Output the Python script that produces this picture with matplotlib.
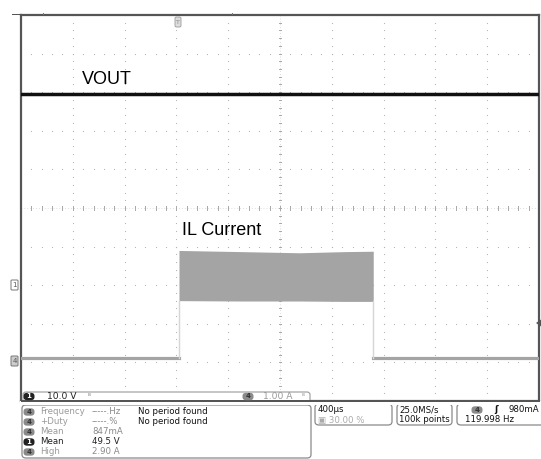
import matplotlib
matplotlib.use("Agg")
import matplotlib.pyplot as plt
from matplotlib.patches import FancyBboxPatch, Rectangle
import numpy as np

time_div_ms = 0.4            # 400 us / div
t_left_ms = -1.2             # trigger at 30 % of record
volt_per_div = 10.0          # CH1
amp_per_div = 1.0            # CH4
ch1_offset_div = -2.0        # CH1 ground marker position
ch4_offset_div = -3.96       # CH4 ground marker position

vout_time = [-1.2, 2.8]
vout_volts = [49.5, 49.5]

il_base_pre_time = [-1.2, 0.02]
il_base_pre_amps = [0.08, 0.08]
il_base_post_time = [1.52, 2.8]
il_base_post_amps = [0.08, 0.08]

il_band_time = [0.02, 0.5, 0.95, 1.3, 1.52]
il_band_top = [2.86, 2.83, 2.80, 2.83, 2.84]
il_band_bottom = [1.56, 1.55, 1.55, 1.54, 1.54]

labels = ["VOUT", "IL Current"]

meas_names = ["Frequency", "+Duty", "Mean", "Mean", "High"]
meas_chan = ["4", "4", "4", "1", "4"]
meas_values = ["-----.Hz", "-----.%", "847mA", "49.5 V", "2.90 A"]
meas_notes = ["No period found", "No period found", "", "", ""]

# ---------------- figure ----------------
W, H = 541, 459
fig = plt.figure(figsize=(W / 100, H / 100), dpi=100)
fig.patch.set_facecolor("white")

def fx(px):
    return px / W

def fy(py):
    return 1 - py / H

ax = fig.add_axes([fx(21), fy(401), fx(539) - fx(21), fy(15) - fy(401)])
x0, x1 = t_left_ms, t_left_ms + 10 * time_div_ms
ax.set_xlim(x0, x1)
ax.set_ylim(-5, 5)
ax.set_xticks([])
ax.set_yticks([])
for s in ax.spines.values():
    s.set_color("#555555")
    s.set_linewidth(1.6)

# graticule: dotted major lines
gcol = "#b0b0b0"
for k in range(1, 10):
    xv = x0 + k * time_div_ms
    ys = np.arange(-5, 5.001, 0.2)
    if k != 5:
        ax.scatter(np.full_like(ys, xv), ys, s=0.7, color=gcol, lw=0, zorder=1)
for k in range(-4, 5):
    xs = x0 + np.arange(0, 10.001, 0.2) * time_div_ms
    if k != 0:
        ax.scatter(xs, np.full_like(xs, k), s=0.7, color=gcol, lw=0, zorder=1)
# center cross with ticks
xc = x0 + 5 * time_div_ms
ax.plot([xc, xc], [-5, 5], color="#d4d4d4", lw=0.6, ls=(0, (1, 2.5)), zorder=1)
ax.plot([x0, x1], [0, 0], color="#d4d4d4", lw=0.6, ls=(0, (1, 2.5)), zorder=1)
for yv in np.arange(-5, 5.001, 0.2):
    ax.plot([xc - 0.009, xc + 0.009], [yv, yv], color="#a8a8a8", lw=0.7, zorder=1)
for xv in x0 + np.arange(0, 10.001, 0.2) * time_div_ms:
    ax.plot([xv, xv], [-0.045, 0.045], color="#a8a8a8", lw=0.7, zorder=1)

# CH4 current (grey)
def amps(v):
    return np.asarray(v) / amp_per_div + ch4_offset_div

def volts(v):
    return np.asarray(v) / volt_per_div + ch1_offset_div

icol = "#a4a4a4"
ax.plot(il_base_pre_time, amps(il_base_pre_amps), color=icol, lw=2.3, zorder=3)
ax.plot(il_base_post_time, amps(il_base_post_amps), color=icol, lw=2.3, zorder=3)
ax.fill_between(il_band_time, amps(il_band_bottom), amps(il_band_top),
                color=icol, lw=0, zorder=3)
ax.plot([il_band_time[0], il_band_time[0]],
        [amps(il_base_pre_amps[-1]), amps(il_band_bottom[0])], color="#d6d6d6", lw=1.0, zorder=3)
ax.plot([il_band_time[-1], il_band_time[-1]],
        [amps(il_base_post_amps[0]), amps(il_band_bottom[-1])], color="#d6d6d6", lw=1.0, zorder=3)

# CH1 VOUT (black)
ax.plot(vout_time, volts(vout_volts), color="#111111", lw=2.5, zorder=4)

ax.text(-0.73, 3.33, labels[0], fontsize=13, family="Liberation Sans",
        ha="left", va="center", color="black", zorder=5)
ax.text(0.045, -0.58, labels[1], fontsize=13, family="Liberation Sans",
        ha="left", va="center", color="black", zorder=5)

# ---------------- decorations in figure coords ----------------
def rbox(xa, ya, xb, yb, ec="#8a8a8a", fc="none", lw=0.9, r=3, z=6):
    p = FancyBboxPatch((fx(xa), fy(yb)), fx(xb) - fx(xa), fy(ya) - fy(yb),
                       boxstyle=f"round,pad=0,rounding_size={r / W}",
                       transform=fig.transFigure, ec=ec, fc=fc, lw=lw, zorder=z,
                       clip_on=False)
    fig.add_artist(p)

def badge(xc_, yc_, num, fc, tc="white"):
    p = FancyBboxPatch((fx(xc_ - 5.5), fy(yc_ + 3.7)), fx(11), 7.4 / H,
                       boxstyle=f"round,pad=0,rounding_size={3.7 / W}",
                       transform=fig.transFigure, ec="none", fc=fc, zorder=8)
    fig.add_artist(p)
    fig.text(fx(xc_), fy(yc_), num, fontsize=5, color=tc, ha="center", va="center",
             zorder=9, fontweight="bold")

def t(xp, yp, s, c="black", fs=6.2, ha="left", w="normal"):
    fig.text(fx(xp), fy(yp), s, fontsize=fs, color=c, ha=ha, va="center",
             family="DejaVu Sans", fontweight=w, zorder=9)

# top-left leftover mark and top ticks
fig.add_artist(Rectangle((fx(12), fy(15)), fx(8), 1.5 / H, transform=fig.transFigure,
                         fc="#555555", ec="none"))
for xp in (43, 232):
    fig.add_artist(Rectangle((fx(xp), fy(15)), fx(1), 2 / H, transform=fig.transFigure,
                             fc="#777777", ec="none"))
# trigger position marker
rbox(175, 17, 181, 27, ec="#9a9a9a", fc="#dddddd", lw=0.6, r=1.5, z=7)
t(178, 22, "T", c="#888888", fs=4.5, ha="center")
# channel ground markers on left
rbox(11, 280, 18, 290, ec="#777777", fc="white", lw=0.7, r=1, z=7)
t(14.5, 285, "1", c="#555555", fs=5, ha="center")
rbox(11, 356, 18, 366, ec="#777777", fc="#cccccc", lw=0.7, r=1, z=7)
t(14.5, 361, "4", c="#555555", fs=5, ha="center")
# trigger level marker on right
fig.add_artist(plt.Polygon([[fx(536), fy(323)], [fx(541), fy(319.5)], [fx(541), fy(326.5)]],
                           closed=True, transform=fig.transFigure, fc="#555555", ec="none"))

# status row inside graticule
rbox(23, 392, 310, 404, ec="#9a9a9a", fc="white", lw=0.8, r=3, z=6)
fig.add_artist(Rectangle((fx(20), fy(405)), fx(522), 4 / H, transform=fig.transFigure,
                         fc="white", ec="none", zorder=7))
fig.add_artist(Rectangle((fx(20.5), fy(402)), fx(519), 2 / H, transform=fig.transFigure,
                         fc="#555555", ec="none", zorder=8))
badge(29, 396.5, "1", "#222222")
t(47, 396.5, "10.0 V", c="#222222", fs=6.6)
t(88, 396.5, "\u1d2e", c="#888888", fs=5)
badge(248, 396.5, "4", "#8a8a8a", tc="#333333")
t(263, 396.5, "1.00 A", c="#999999", fs=6.6)
t(302, 396.5, "\u1d2e", c="#999999", fs=5)

# measurement box
rbox(22, 405, 311, 458, ec="#8a8a8a", lw=0.9, r=4)
rows_y = [412, 422, 432, 442, 452]
for yv, nm, ch, val, note in zip(rows_y, meas_names, meas_chan, meas_values, meas_notes):
    dark = ch == "1"
    badge(29, yv, ch, "#222222" if dark else "#8a8a8a", tc="white" if dark else "#333333")
    col = "#222222" if dark else "#9a9a9a"
    t(40, yv, nm, c=col)
    t(92, yv, val, c="#222222" if dark else "#8a8a8a")
    if note:
        t(138, yv, note, c="#111111")

# timebase box
rbox(315, 404, 392, 425, r=4)
t(318, 410, "400\u00b5s", c="#111111")
t(318, 420, "\u25a3 30.00 %", c="#aaaaaa")
# sample rate box
rbox(397, 404, 452, 425, r=4)
t(399, 410, "25.0MS/s", c="#111111")
t(399, 420, "100k points", c="#111111")
# trigger box
rbox(457, 404, 545, 425, r=4)
badge(477, 410, "4", "#8a8a8a", tc="#333333")
t(494, 410, "\u0283", c="#111111", w="bold")
t(539, 410, "980mA", c="#111111", ha="right")
t(465, 420, "119.998 Hz", c="#111111")

fig.savefig("out.png", dpi=100, facecolor="white")
